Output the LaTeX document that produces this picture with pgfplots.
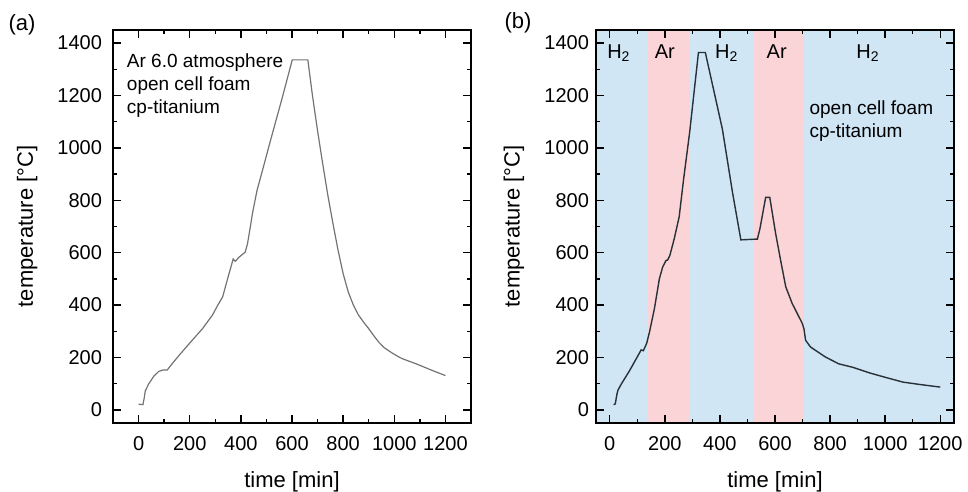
\documentclass[border=0pt]{standalone}
\usepackage{fontspec}
\setmainfont{Liberation Sans}
\usepackage{pgfplots}
\pgfplotsset{compat=1.18}
\usepackage{pgfplotstable}

\definecolor{htwo}{RGB}{208,230,244}
\definecolor{argon}{RGB}{250,212,214}
\definecolor{curvea}{RGB}{115,115,115}
\definecolor{curveb}{RGB}{40,48,56}

% (a) Ar 6.0 atmosphere
\pgfplotstableread{
t T
0 22
17 20
22 45
26 72
39 98
59 128
79 147
95 152
112 152
131 176
160 210
200 255
250 310
289 362
310 400
329 432
348 500
370 576
378 567
393 583
417 602
426 634
439 710
445 748
463 837
484 912
513 1018
562 1192
601 1336
662 1336
680 1200
700 1065
720 940
740 820
760 712
780 610
800 520
820 450
840 400
860 362
880 335
900 310
920 283
940 258
960 238
990 218
1020 201
1030 196
1085 176
1150 150
1200 131
}\runa

% (b) H2 / Ar cycling
\pgfplotstableread{
t T
14 20
20 23
26 60
30 76
42 99
72 150
114 229
122 226
134 254
144 296
162 386
180 500
192 545
204 570
210 572
218 589
234 653
252 737
268 880
290 1059
310 1250
322 1364
347 1364
409 1071
446 828
476 649
536 652
545 690
566 811
581 811
602 675
620 573
639 470
662 407
687 355
699 330
705 310
711 266
729 240
783 202
831 176
884 162
944 141
1005 123
1065 106
1126 97
1200 87
}\runb

\pgfplotsset{
  furnace/.style={
    scale only axis, width=179pt, height=196.5pt,
    ymin=-50, ymax=1450,
    xtick={0,200,...,1200}, ytick={0,200,...,1400},
    minor x tick num=1, minor y tick num=1,
    tick align=inside, major tick length=4pt, minor tick length=2pt,
    every tick/.style={black, line width=0.7pt},
    axis line style={line width=0.9pt},
    tick label style={font=\fontsize{10}{12}\selectfont},
    label style={font=\fontsize{11}{13}\selectfont},
    /pgf/number format/assume math mode=true,
    /pgf/number format/1000 sep={},
    xticklabel style={yshift=-3pt},
    xlabel={time [min]}, ylabel={temperature [°C]},
  }
}

\begin{document}
\begin{tikzpicture}
\useasboundingbox (-56.5pt,-34.5pt) rectangle (427.5pt,211.5pt);

\begin{axis}[furnace, xmin=-100, xmax=1300,
    yticklabel style={xshift=-2pt},
    x label style={at={(axis description cs:0.5,-0.150)}, anchor=center},
    y label style={at={(axis description cs:-0.240,0.5)}, anchor=center}]
  \addplot[curvea, line width=0.6pt, no marks] table[x=t, y=T] {\runa};
  \node[anchor=north west, align=left, inner sep=0pt,
        font=\fontsize{9.5}{11.5}\selectfont] at (axis cs:-47,1360)
        {Ar 6.0 atmosphere\\open cell foam\\cp-titanium};
\end{axis}
\node[font=\fontsize{11}{13}\selectfont] at (-45.5pt,199pt) {(a)};

\begin{axis}[furnace, at={(241.5pt,0pt)}, xmin=-50, xmax=1250, axis on top,
    x label style={at={(axis description cs:0.5,-0.1495)}, anchor=center},
    y label style={at={(axis description cs:-0.2290,0.5)}, anchor=center}]
  \addplot[draw=none, fill=htwo] coordinates {(-50,-50) (136,-50) (136,1450) (-50,1450)} -- cycle;
  \addplot[draw=none, fill=argon] coordinates {(136,-50) (292,-50) (292,1450) (136,1450)} -- cycle;
  \addplot[draw=none, fill=htwo] coordinates {(292,-50) (522,-50) (522,1450) (292,1450)} -- cycle;
  \addplot[draw=none, fill=argon] coordinates {(522,-50) (705,-50) (705,1450) (522,1450)} -- cycle;
  \addplot[draw=none, fill=htwo] coordinates {(705,-50) (1250,-50) (1250,1450) (705,1450)} -- cycle;
  \addplot[curveb, line width=0.7pt, no marks] table[x=t, y=T] {\runb};
  \begin{scope}[every node/.style={font=\fontsize{10}{12}\selectfont, anchor=base, inner sep=0pt}]
    \node at (axis cs:33,1340) {H\textsubscript{2}};
    \node at (axis cs:200,1340) {Ar};
    \node at (axis cs:425,1340) {H\textsubscript{2}};
    \node at (axis cs:606,1340) {Ar};
    \node at (axis cs:938,1340) {H\textsubscript{2}};
  \end{scope}
  \node[anchor=north west, align=left, inner sep=0pt,
        font=\fontsize{9.5}{11.5}\selectfont] at (axis cs:724,1180)
        {open cell foam\\cp-titanium};
\end{axis}
\node[font=\fontsize{11}{13}\selectfont] at (202.5pt,200pt) {(b)};
\end{tikzpicture}
\end{document}
